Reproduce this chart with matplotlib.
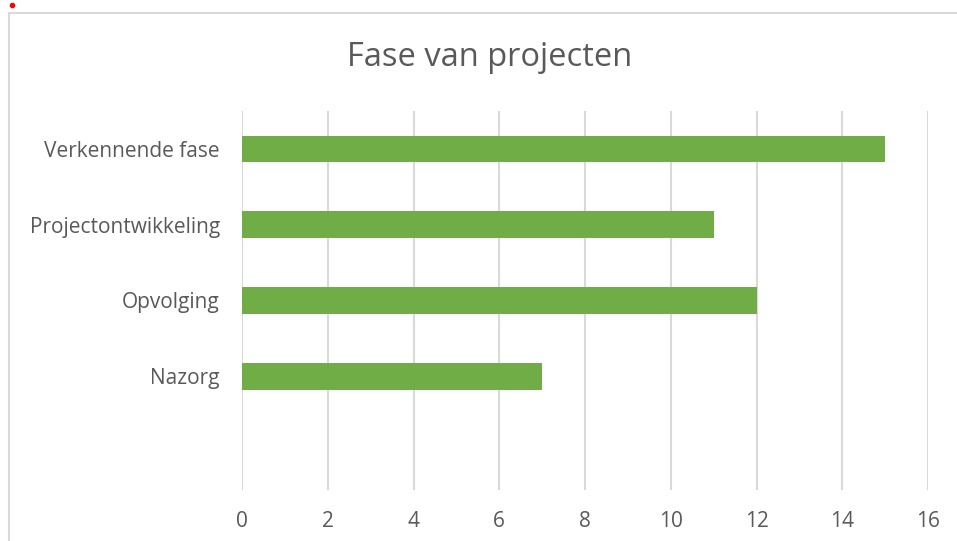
import matplotlib.pyplot as plt
from matplotlib.patches import Rectangle
from matplotlib.lines import Line2D

categories = ['Verkennende fase', 'Projectontwikkeling', 'Opvolging', 'Nazorg', '']
values = [15, 11, 12, 7, 0]
xticks = [0, 2, 4, 6, 8, 10, 12, 14, 16]

plt.rcParams['font.family'] = ['Open Sans', 'DejaVu Sans']
text_color = '#595959'
grid_color = '#D9D9D9'

fig = plt.figure(figsize=(9.57, 5.41), dpi=100)
ax = fig.add_axes([0.2529, 0.0943, 0.7168, 0.7005])

# chart border (cut off at right/bottom like the screenshot)
fig.patches.append(Rectangle((9 / 957, -0.05), 1.1, 1 - 13.5 / 541 + 0.05,
                             transform=fig.transFigure, fill=False,
                             edgecolor=grid_color, linewidth=1.5))
# little red dot top-left
fig.add_artist(Line2D([12 / 957], [1 - 5 / 541], transform=fig.transFigure,
                      marker='o', markersize=3, color='red', linestyle='none'))

ypos = list(range(len(categories)))
bar_vals = [v if c else 0 for c, v in zip(categories, values)]
ax.barh(ypos, bar_vals, height=0.35, color='#70AD47', zorder=3)
ax.set_ylim(len(categories) - 0.5, -0.5)
ax.set_yticks(ypos)
ax.set_yticklabels(categories)
ax.set_xlim(0, 16)
ax.set_xticks(xticks)

for s in ax.spines.values():
    s.set_visible(False)
ax.grid(axis='x', color=grid_color, linewidth=1.5, zorder=0)
ax.tick_params(length=0, labelsize=15, labelcolor=text_color)
ax.tick_params(axis='x', pad=15)
ax.tick_params(axis='y', pad=16)

fig.text(490 / 957, 1 - 58 / 541, 'Fase van projecten', ha='center', va='center',
         fontsize=23.5, color=text_color)

fig.savefig('out.png', dpi=100)
